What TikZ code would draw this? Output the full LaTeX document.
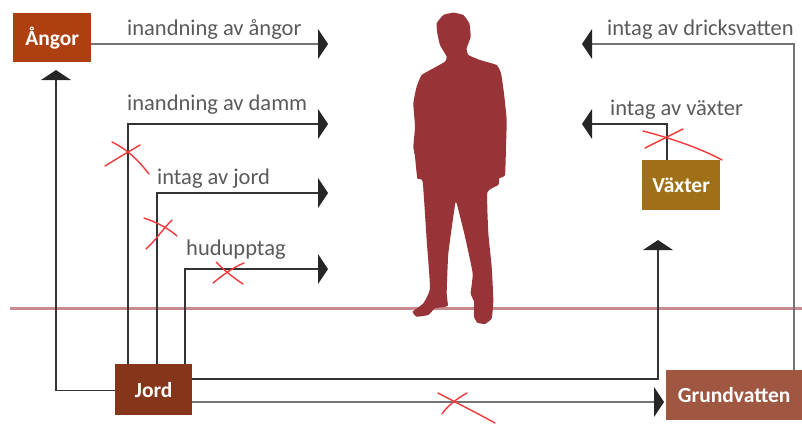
\documentclass[tikz,border=0pt]{standalone}
\usepackage{fontspec}
\setmainfont{Carlito}
\definecolor{angorc}{HTML}{AE3F10}
\definecolor{jordc}{HTML}{85361A}
\definecolor{vaxterc}{HTML}{A07018}
\definecolor{grundc}{HTML}{9F5742}
\definecolor{manc}{HTML}{983338}
\definecolor{groundc}{HTML}{C98A8D}
\definecolor{redc}{HTML}{F2383A}
\definecolor{txtc}{HTML}{5A5A5A}
\definecolor{linec}{HTML}{333333}
\tikzset{
 box/.style={draw=none,inner sep=0pt,text=white,font=\fontsize{21.5}{21.5}\selectfont\bfseries,anchor=north west},
 lab/.style={inner sep=0pt,text=txtc,font=\fontsize{22.5}{22.5}\selectfont,anchor=base west},
 conn/.style={draw=linec,line width=1.8pt},
 thick conn/.style={draw=black!55,line width=2.8pt},
 cross/.style={draw=redc,line width=1.4pt,line cap=round},
 hd/.style={fill=black!85,draw=none},
}
\begin{document}
\begin{tikzpicture}[x=1pt,y=-1pt]
\useasboundingbox (0,0) rectangle (802,424);
% ground
\draw[groundc,line width=2.6pt] (10,308.5) -- (802,308.5);
% nodes
\node[box,fill=angorc,minimum width=78pt,minimum height=49pt] (angor) at (13,13) {Ångor};
\node[box,fill=jordc,minimum width=77pt,minimum height=51pt] (jord) at (115,364) {Jord};
\node[box,fill=vaxterc,minimum width=78pt,minimum height=50pt] (vaxter) at (642,160) {Växter};
\node[box,fill=grundc,minimum width=136pt,minimum height=50pt] (grund) at (666,370) {Grundvatten};
% free ends
\coordinate (e1) at (320,44);
\coordinate (e2) at (320,124);
\coordinate (e3) at (320,193);
\coordinate (e4) at (320,269);
\coordinate (e5) at (590,44);
\coordinate (e6) at (590,124);
\coordinate (e7) at (56,78);
\coordinate (e8) at (658,248);
\coordinate (e9) at (656,402);
% connectors
\draw[thick conn] (angor.east |- e1) -- (e1);
\draw[conn] ([xshift=13pt]jord.north west) |- (e2);
\draw[conn] ([xshift=42pt]jord.north west) |- (e3);
\draw[conn] ([xshift=70pt]jord.north west) |- (e4);
\draw[conn] ([yshift=25pt]jord.south west) -| (e7);
\draw[conn] ([yshift=-15pt]jord.north east) -| (e8);
\draw[thick conn] (jord.east |- e9) -- (e9);
\draw[thick conn] ([xshift=128pt]grund.north west) |- (e5);
\draw[conn] ([xshift=25pt]vaxter.north west) |- (e6);
% arrow heads
\foreach \y in {44,124,193,269}{\fill[hd] (318,\y-15) -- (328,\y) -- (318,\y+15) -- cycle;}
\foreach \y in {44,124}{\fill[hd] (592,\y-15) -- (582,\y) -- (592,\y+15) -- cycle;}
\fill[hd] (654,387) -- (664,402) -- (654,417) -- cycle;
\fill[hd] (41,80) -- (56,70) -- (71,80) -- cycle;
\fill[hd] (643,250) -- (658,240) -- (673,250) -- cycle;
% labels
\node[lab] (l1) at (127,35) {inandning av ångor};
\node[lab] (l2) at (127,110) {inandning av damm};
\node[lab] (l3) at (157,184) {intag av jord};
\node[lab] (l4) at (186,255) {hudupptag};
\node[lab] (l5) at (607,35) {intag av dricksvatten};
\node[lab] (l6) at (610,115) {intag av växter};
% silhouette
\begin{scope}[shift={(400,0)},x=0.3333pt,y=-0.3333pt]
\fill[manc] plot[smooth cycle,tension=0.25] coordinates {(110,70)(130,45)(160,38)(190,45)(208,70)(212,110)(200,145)(205,165)(240,180)(290,195)(303,220)(312,280)(320,360)(318,440)(315,525)(298,535)(295,555)(262,577)(265,700)(275,800)(280,900)(275,955)(255,972)(232,968)(222,950)(222,905)(212,880)(218,820)(195,710)(170,610)(165,615)(145,760)(140,880)(143,918)(105,925)(85,945)(50,950)(38,935)(70,910)(90,865)(80,720)(68,545)(52,535)(45,470)(40,440)(45,380)(40,310)(50,260)(65,225)(100,205)(135,185)(140,170)(120,135)(112,100)};
\end{scope}
% red marks
\draw[cross] (105,166) .. controls (118,158) and (128,152) .. (140,145);
\draw[cross] (112,142) .. controls (128,150) and (138,160) .. (149,174);
\draw[cross] (146,249) .. controls (156,240) and (162,230) .. (172,220);
\draw[cross] (144,218) .. controls (156,222) and (168,228) .. (177,236);
\draw[cross] (213,283) .. controls (224,274) and (234,267) .. (244,263);
\draw[cross] (216,262) .. controls (226,272) and (234,278) .. (243,284);
\draw[cross] (645,148) -- (683,129);
\draw[cross] (643,131) .. controls (670,138) and (700,148) .. (722,160);
\draw[cross] (442,414) .. controls (448,405) and (458,398) .. (467,393);
\draw[cross] (438,393) .. controls (455,402) and (475,412) .. (495,423);
\end{tikzpicture}
\end{document}
